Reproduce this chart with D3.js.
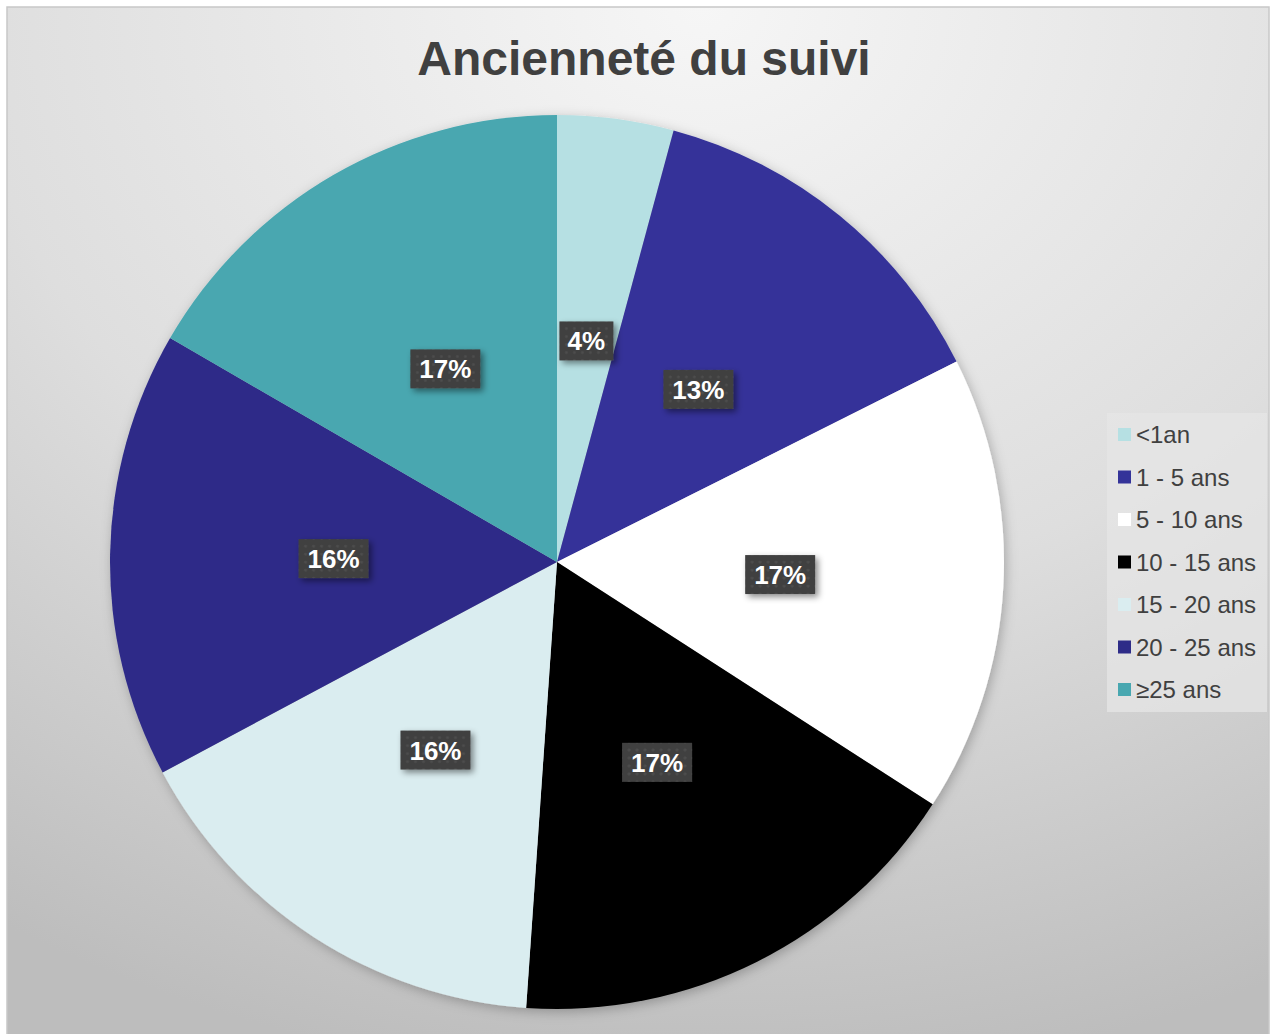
<!DOCTYPE html>
<html>
<head>
<meta charset="utf-8">
<script src="https://cdn.jsdelivr.net/npm/d3@7"></script>
<style>
  body { margin: 0; background: #ffffff; }
  svg { display: block; font-family: Arial, "Liberation Sans", sans-serif; }
</style>
</head>
<body>
<svg id="chart" width="1270" height="1034"></svg>
<script>
// Data (shares in %)
var categories = ["<1an", "1 - 5 ans", "5 - 10 ans", "10 - 15 ans", "15 - 20 ans", "20 - 25 ans", "\u226525 ans"];
var shares = [4.2, 13.4, 16.52, 16.98, 16.1, 16.15, 16.65];
var colors = ["#b6e0e3", "#343399", "#ffffff", "#000000", "#daedf0", "#2e2c88", "#48a7b0"];
var title = "Ancienneté du suivi";

var svg = d3.select("#chart");
var defs = svg.append("defs");

// background gradient
var bg = defs.append("radialGradient")
  .attr("id", "bg")
  .attr("cx", "0.55").attr("cy", "0.0").attr("r", "1.05")
  .attr("gradientUnits", "objectBoundingBox");
bg.append("stop").attr("offset", "0%").attr("stop-color", "#f6f6f6");
bg.append("stop").attr("offset", "55%").attr("stop-color", "#dedede");
bg.append("stop").attr("offset", "100%").attr("stop-color", "#bdbdbd");

// label box texture
var pat = defs.append("pattern")
  .attr("id", "dots")
  .attr("width", 8).attr("height", 8)
  .attr("patternUnits", "userSpaceOnUse");
pat.append("rect").attr("width", 8).attr("height", 8).attr("fill", "#3f3f3f");
pat.append("circle").attr("cx", 4).attr("cy", 4).attr("r", 1.6).attr("fill", "#4d4d4d");

var shadow = defs.append("filter").attr("id", "shadow")
  .attr("x", "-30%").attr("y", "-30%").attr("width", "160%").attr("height", "160%");
shadow.append("feDropShadow").attr("dx", 3).attr("dy", 3).attr("stdDeviation", 3)
  .attr("flood-color", "#000").attr("flood-opacity", 0.45);

var pieShadow = defs.append("filter").attr("id", "pieShadow")
  .attr("x", "-10%").attr("y", "-10%").attr("width", "120%").attr("height", "120%");
pieShadow.append("feDropShadow").attr("dx", 2).attr("dy", 3).attr("stdDeviation", 6)
  .attr("flood-color", "#000").attr("flood-opacity", 0.25);

// chart area
svg.append("rect")
  .attr("x", 7).attr("y", 7).attr("width", 1262).attr("height", 1028)
  .attr("fill", "url(#bg)")
  .attr("stroke", "#c8c8c8").attr("stroke-width", 1.5);

svg.append("text")
  .attr("x", 644).attr("y", 75)
  .attr("text-anchor", "middle")
  .attr("font-size", 48).attr("font-weight", "bold")
  .attr("fill", "#404040")
  .text(title);

// pie
var cx = 557, cy = 562, radius = 447;
var pie = d3.pie().sort(null).value(function(d) { return d; });
var arcs = pie(shares);
var total = d3.sum(shares);
var arc = d3.arc().innerRadius(0).outerRadius(radius);
var labelArc = d3.arc().innerRadius(radius / 2).outerRadius(radius / 2);

var g = svg.append("g").attr("transform", "translate(" + cx + "," + cy + ")");

g.append("g").attr("filter", "url(#pieShadow)")
  .selectAll("path")
  .data(arcs).enter()
  .append("path")
  .attr("d", arc)
  .attr("fill", function(d, i) { return colors[i]; });

// data labels
var labels = g.selectAll(".lbl")
  .data(arcs).enter()
  .append("g")
  .attr("class", "lbl")
  .attr("transform", function(d) { return "translate(" + labelArc.centroid(d) + ")"; });

labels.each(function(d) {
  var el = d3.select(this);
  var txt = Math.round(d.value / total * 100) + "%";
  var w = txt.length == 2 ? 54 : 70;
  el.append("rect")
    .attr("x", -w / 2).attr("y", -19).attr("width", w).attr("height", 39)
    .attr("fill", "url(#dots)")
    .attr("filter", "url(#shadow)");
  el.append("text")
    .attr("text-anchor", "middle")
    .attr("y", 10)
    .attr("font-size", 26).attr("font-weight", "bold")
    .attr("fill", "#ffffff")
    .text(txt);
});

// legend
var legend = svg.append("g").attr("transform", "translate(1107,413)");
legend.append("rect")
  .attr("width", 160).attr("height", 299)
  .attr("fill", "#e6e6e6").attr("opacity", 0.75);

var rows = legend.selectAll(".row")
  .data(categories).enter()
  .append("g")
  .attr("transform", function(d, i) { return "translate(11," + (22 + i * 42.5) + ")"; });

rows.append("rect")
  .attr("x", 0).attr("y", -7).attr("width", 13).attr("height", 13)
  .attr("fill", function(d, i) { return colors[i]; });

rows.append("text")
  .attr("x", 18).attr("y", 8)
  .attr("font-size", 24)
  .attr("fill", "#404040")
  .text(function(d) { return d; });
</script>
</body>
</html>
